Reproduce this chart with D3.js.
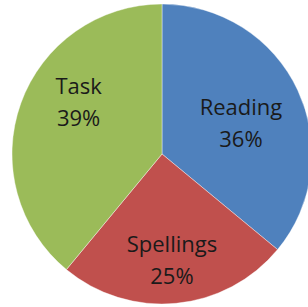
<!DOCTYPE html>
<html>
<head>
<meta charset="utf-8">
<script src="https://cdn.jsdelivr.net/npm/d3@7"></script>
<style>
  html, body { margin: 0; padding: 0; background: #fff; }
  svg { display: block; }
</style>
</head>
<body>
<svg id="pie" width="308" height="307"></svg>
<script>
const categories = ["Reading", "Spellings", "Task"];
const values = [36, 25, 39];
const colors = ["#4F81BD", "#C0504D", "#9BBB59"];

const width = 308, height = 307;
const cx = 162, cy = 154, radius = 150;
// nudges so the labels sit where the original's "best fit" put them
const labelNudge = {Reading: [-7, 1], Spellings: [1, 3], Task: [6, -28]};

const svg = d3.select("#pie");
const g = svg.append("g").attr("transform", `translate(${cx},${cy})`);

const data = categories.map((c, i) => ({name: c, value: values[i], color: colors[i]}));
const pie = d3.pie().value(d => d.value).sort(null);
const arc = d3.arc().innerRadius(0).outerRadius(radius);
const labelArc = d3.arc().innerRadius(95).outerRadius(95);

g.selectAll("path").data(pie(data)).join("path")
  .attr("d", arc)
  .attr("fill", d => d.data.color)
  .attr("stroke", "#fff")
  .attr("stroke-opacity", 0.5)
  .attr("stroke-width", 0.8);

const totals = d3.sum(values);
const labels = g.selectAll("text").data(pie(data)).join("text")
  .attr("transform", d => {
    const [x, y] = labelArc.centroid(d);
    const n = labelNudge[d.data.name];
    return `translate(${x + n[0]},${y + n[1]})`;
  })
  .attr("text-anchor", "middle")
  .attr("font-family", "'Open Sans', sans-serif")
  .attr("font-size", 22)
  .attr("fill", "#1a1a1a");

labels.append("tspan").attr("x", 0).attr("y", 0).text(d => d.data.name);
labels.append("tspan").attr("x", 0).attr("y", 32)
  .text(d => Math.round(d.data.value / totals * 100) + "%");
</script>
</body>
</html>
